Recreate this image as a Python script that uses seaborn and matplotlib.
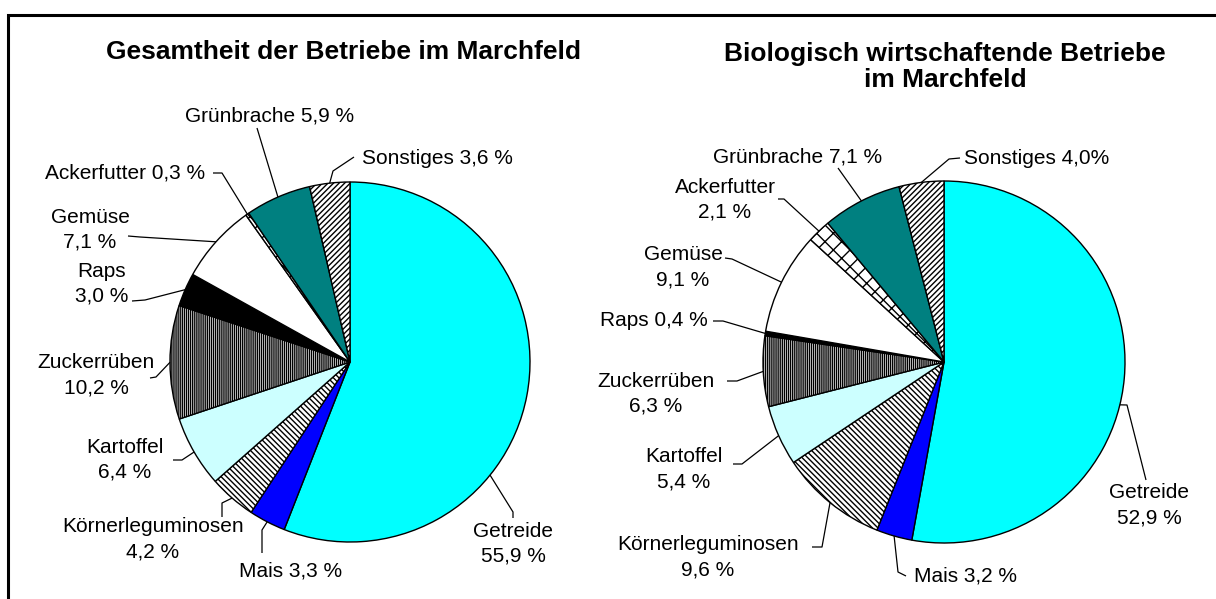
import numpy as np
import seaborn as sns
import matplotlib
matplotlib.use("Agg")
import matplotlib.pyplot as plt
from matplotlib.patches import Rectangle

# data
categories = ["Getreide", "Mais", "Körnerleguminosen", "Kartoffel", "Zuckerrüben",
              "Raps", "Gemüse", "Ackerfutter", "Grünbrache", "Sonstiges"]
gesamt_values = [55.9, 3.3, 4.2, 6.4, 10.2, 3.0, 7.1, 0.3, 5.9, 3.6]
bio_values = [52.9, 3.2, 9.6, 5.4, 6.3, 0.4, 9.1, 2.1, 7.1, 4.0]
gesamt_labels = ["Getreide\n55,9 %", "Mais 3,3 %", "Körnerleguminosen\n4,2 %", "Kartoffel\n6,4 %",
                 "Zuckerrüben\n10,2 %", "Raps\n3,0 %", "Gemüse\n7,1 %", "Ackerfutter 0,3 %",
                 "Grünbrache 5,9 %", "Sonstiges 3,6 %"]
bio_labels = ["Getreide\n52,9 %", "Mais 3,2 %", "Körnerleguminosen\n9,6 %", "Kartoffel\n5,4 %",
              "Zuckerrüben\n6,3 %", "Raps 0,4 %", "Gemüse\n9,1 %", "Ackerfutter\n2,1 %",
              "Grünbrache 7,1 %", "Sonstiges 4,0%"]
titles = ["Gesamtheit der Betriebe im Marchfeld",
          "Biologisch wirtschaftende Betriebe\nim Marchfeld"]

colors = ["#00FFFF", "#0000FF", "white", "#CCFFFF", "white",
          "black", "white", "white", "#008080", "white"]
hatches = [None, None, "\\\\\\\\\\\\", None, "||||||||", None, None, "xx", None, "//////"]

sns.set_theme(style="white")
plt.rcParams["font.family"] = ["Liberation Sans", "DejaVu Sans"]
plt.rcParams["text.color"] = "black"
plt.rcParams["hatch.linewidth"] = 1.0

W, H = 1216, 599


def Y(y):
    return H - y


# label layout (pixel positions): x, y, ha, leader points, fraction in wedge
left_layout = [
    (513, 544, "center", [(513, 518), (513, 512)], 0.64),
    (291, 571, "center", [(262, 553), (262, 530)], 0.5),
    (153, 539, "center", [(222, 517), (222, 503)], 0.5),
    (125, 460, "center", [(173, 460), (182, 460)], 0.5),
    (96, 375, "center", [(150, 378), (156, 377)], 0.5),
    (102, 284, "center", [(132, 301), (145, 300)], 0.5),
    (90, 230, "center", [(128, 236), (140, 237)], 0.5),
    (125, 173, "center", [(213, 173), (222, 173)], 0.5),
    (270, 116, "center", [(257, 128)], 0.5),
    (362, 158, "left", [(354, 157), (333, 171)], 0.5),
]
right_layout = [
    (1149, 505, "center", [(1146, 480), (1127, 405)], 0.545),
    (965, 576, "center", [(906, 576), (898, 572)], 0.5),
    (708, 557, "center", [(812, 547), (822, 547)], 0.5),
    (684, 469, "center", [(733, 464), (742, 464)], 0.5),
    (656, 394, "center", [(727, 381), (737, 381)], 0.5),
    (654, 321, "center", [(713, 321), (723, 321)], 0.5),
    (683, 267, "center", [(725, 258), (732, 259)], 0.5),
    (725, 200, "center", [(778, 199), (784, 199)], 0.5),
    (798, 157, "center", [(838, 168)], 0.5),
    (964, 158, "left", [(960, 158), (949, 159)], 0.5),
]

fig = plt.figure(figsize=(W / 100, H / 100), dpi=100)
ax = fig.add_axes([0, 0, 1, 1])

pies = [
    (gesamt_values, gesamt_labels, left_layout, (350, 362), 180, titles[0], (343, 52)),
    (bio_values, bio_labels, right_layout, (944, 362), 181, titles[1], (945, 67)),
]

for values, labels, layout, center, radius, title, tpos in pies:
    c = (center[0], Y(center[1]))
    wedges, _ = ax.pie(
        values,
        colors=colors,
        startangle=90,
        counterclock=False,
        center=c,
        radius=radius,
        wedgeprops=dict(edgecolor="black", linewidth=1.0),
    )
    for w, h in zip(wedges, hatches):
        if h:
            w.set_hatch(h)

    for w, lab, (tx, ty, ha, pts, frac) in zip(wedges, labels, layout):
        ax.text(tx, Y(ty), lab, ha=ha, va="center", fontsize=15,
                linespacing=1.4, color="black")
        # leader line to the wedge rim
        ang = np.deg2rad(w.theta2 - frac * (w.theta2 - w.theta1))
        ex = c[0] + radius * np.cos(ang)
        ey = c[1] + radius * np.sin(ang)
        xs = [p[0] for p in pts] + [ex]
        ys = [Y(p[1]) for p in pts] + [ey]
        ax.plot(xs, ys, color="black", linewidth=0.9, solid_capstyle="butt")

    ax.text(tpos[0], Y(tpos[1]), title, ha="center", va="center", color="black",
            fontsize=19, fontweight="bold", linespacing=1.15)

# outer frame (only top and left edges are inside the image)
ax.add_patch(Rectangle((8, Y(15) - 2000), 3000, 2000, fill=False,
                       edgecolor="black", linewidth=2.2, clip_on=False))

ax.set_xlim(0, W)
ax.set_ylim(0, H)
ax.set_aspect("auto")
ax.axis("off")

fig.savefig("out.png", dpi=100)
